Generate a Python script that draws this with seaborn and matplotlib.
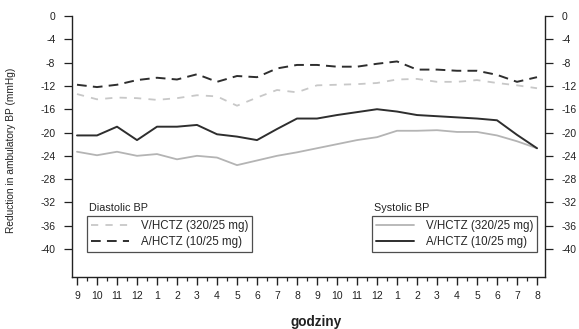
import numpy as np
import pandas as pd
import matplotlib
matplotlib.use("Agg")
import matplotlib.pyplot as plt
import seaborn as sns
from matplotlib.ticker import MultipleLocator

# ---- data ----
hour_labels = ["9", "10", "11", "12", "1", "2", "3", "4", "5", "6", "7", "8",
               "9", "10", "11", "12", "1", "2", "3", "4", "5", "6", "7", "8"]
v_diastolic = [-13.4, -14.3, -14.0, -14.1, -14.4, -14.1, -13.6, -13.8, -15.4, -14.0, -12.7, -13.1,
               -11.9, -11.8, -11.7, -11.5, -10.9, -10.8, -11.3, -11.3, -11.0, -11.5, -11.9, -12.4]
a_diastolic = [-11.8, -12.2, -11.8, -11.0, -10.6, -10.9, -10.0, -11.3, -10.3, -10.5, -9.0, -8.4,
               -8.4, -8.7, -8.7, -8.2, -7.8, -9.2, -9.2, -9.4, -9.4, -10.1, -11.3, -10.5]
v_systolic = [-23.3, -23.9, -23.3, -24.0, -23.7, -24.6, -24.0, -24.3, -25.6, -24.8, -24.0, -23.4,
              -22.7, -22.0, -21.3, -20.8, -19.7, -19.7, -19.6, -19.9, -19.9, -20.5, -21.5, -22.7]
a_systolic = [-20.5, -20.5, -19.0, -21.3, -19.0, -19.0, -18.7, -20.3, -20.7, -21.3, -19.4, -17.6,
              -17.6, -17.0, -16.5, -16.0, -16.4, -17.0, -17.2, -17.4, -17.6, -17.9, -20.4, -22.7]
series_labels = ["V/HCTZ (320/25 mg)", "A/HCTZ (10/25 mg)"]
y_ticks = [0, -4, -8, -12, -16, -20, -24, -28, -32, -36, -40]

x = np.arange(len(hour_labels))

sns.set_style("ticks")
plt.rcParams['font.family'] = ['Liberation Sans', 'DejaVu Sans']

fig = plt.figure(figsize=(5.79, 3.29), dpi=100)
ax = fig.add_axes([72/579, 1-277/329, (545-72)/579, (277-16)/329])

light_d = "#c8c8c8"
light_s = "#b4b4b4"
dark = "#2e2e2e"

sns.lineplot(x=x, y=v_diastolic, ax=ax, color=light_d, lw=1.3, linestyle=(0, (4, 4)))
sns.lineplot(x=x, y=a_diastolic, ax=ax, color=dark, lw=1.4, linestyle=(0, (5, 3.2)))
sns.lineplot(x=x, y=v_systolic, ax=ax, color=light_s, lw=1.3)
sns.lineplot(x=x, y=a_systolic, ax=ax, color=dark, lw=1.4)
lines = ax.get_lines()

ax.set_xlim(-0.25, 23.4)
ax.set_ylim(-44.8, 0)
ax.set_yticks(y_ticks)
ax.set_yticklabels([str(v) for v in y_ticks])
ax.set_xticks(x)
ax.set_xticklabels(hour_labels)
ax.xaxis.set_minor_locator(MultipleLocator(0.5))

for s in ["left", "right", "bottom"]:
    ax.spines[s].set_color("#222222")
    ax.spines[s].set_linewidth(1.0)
ax.spines["top"].set_visible(False)

ax.tick_params(axis="y", which="major", direction="out", length=6, width=0.9,
               colors="#222222", labelsize=7.5, left=True, right=True,
               labelleft=True, labelright=True, pad=6)
ax.tick_params(axis="x", which="major", direction="out", length=6, width=1.0,
               colors="#222222", labelsize=7.5, pad=4)
ax.tick_params(axis="x", which="minor", direction="out", length=3, width=0.9, colors="#222222")

fig.text(11/579, 1-150/329, "Reduction in ambulatory BP (mmHg)", rotation=90,
         ha="center", va="center", fontsize=7.3, color="#222222")
fig.text(316/579, 1-322/329, "godziny", ha="center", va="center",
         fontsize=9.8, fontweight="bold", color="#222222")

leg_kw = dict(fontsize=8.3, handlelength=3.3, handletextpad=1.0, borderpad=0.35,
              labelspacing=0.35, frameon=True, fancybox=False, loc="upper left",
              bbox_transform=fig.transFigure, borderaxespad=0)
leg1 = ax.legend([lines[0], lines[1]], series_labels,
                 bbox_to_anchor=(87/579, 1-216/329), **leg_kw)
leg1.get_frame().set_edgecolor("#222222")
leg1.get_frame().set_linewidth(0.9)
ax.add_artist(leg1)
leg2 = ax.legend([lines[2], lines[3]], series_labels,
                 bbox_to_anchor=(372/579, 1-216/329), **leg_kw)
leg2.get_frame().set_edgecolor("#222222")
leg2.get_frame().set_linewidth(0.9)

fig.text(89/579, 1-208/329, "Diastolic BP", ha="left", va="center", fontsize=7.8, color="#222222")
fig.text(374/579, 1-208/329, "Systolic BP", ha="left", va="center", fontsize=7.8, color="#222222")

fig.savefig("out.png", dpi=100)
